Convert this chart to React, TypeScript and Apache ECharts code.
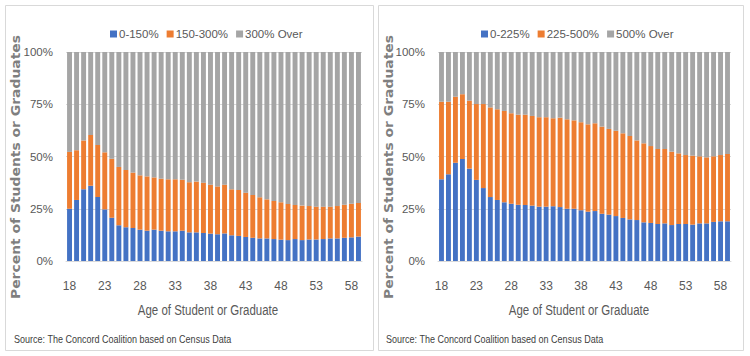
import React, { useEffect, useRef } from "react";
import * as echarts from "echarts";

const ages: string[] = [];
for (let a = 18; a <= 59; a++) ages.push(String(a));

const leftNames = ["0-150%", "150-300%", "300% Over"];
const rightNames = ["0-225%", "225-500%", "500% Over"];

const leftLow = [25.0, 29.2, 34.3, 36.0, 30.6, 24.7, 20.7, 17.1, 16.1, 15.8, 15.0, 14.5, 15.0, 14.5, 14.2, 14.2, 14.5, 13.7, 13.7, 13.4, 13.1, 12.8, 13.2, 12.3, 12.0, 11.5, 11.1, 10.8, 10.8, 10.5, 10.2, 10.0, 10.5, 10.0, 10.3, 10.3, 10.5, 10.8, 10.8, 11.1, 11.3, 11.7];
const leftMid = [27.2, 23.8, 23.3, 24.3, 24.9, 27.3, 28.2, 27.9, 27.4, 26.5, 26.0, 26.0, 25.0, 24.9, 24.9, 24.9, 24.4, 24.0, 24.3, 24.1, 23.4, 22.9, 23.3, 22.0, 22.0, 21.2, 20.5, 19.7, 18.7, 18.2, 17.9, 17.3, 16.3, 16.5, 16.0, 15.7, 15.5, 15.2, 15.5, 15.8, 16.1, 16.1];
const leftHigh = [47.8, 47.0, 42.4, 39.7, 44.5, 48.0, 51.1, 55.0, 56.5, 57.7, 59.0, 59.5, 60.0, 60.6, 60.9, 60.9, 61.1, 62.3, 62.0, 62.5, 63.5, 64.3, 63.5, 65.7, 66.0, 67.3, 68.4, 69.5, 70.5, 71.3, 71.9, 72.7, 73.2, 73.5, 73.7, 74.0, 74.0, 74.0, 73.7, 73.1, 72.6, 72.2];

const rightLow = [39.1, 41.5, 47.0, 48.8, 44.2, 38.8, 34.9, 30.6, 29.2, 28.1, 27.4, 26.9, 26.8, 26.5, 26.0, 26.0, 26.2, 25.8, 25.0, 25.0, 24.3, 23.6, 23.9, 22.6, 22.2, 21.5, 20.6, 19.9, 19.6, 18.5, 18.2, 17.7, 18.0, 17.2, 17.7, 17.7, 17.4, 18.0, 18.0, 18.7, 19.0, 19.0];
const rightMid = [37.1, 34.7, 31.6, 31.0, 32.5, 36.3, 40.2, 42.9, 43.4, 43.7, 43.3, 43.1, 43.2, 42.9, 42.8, 42.8, 42.1, 42.8, 42.8, 42.3, 42.1, 41.8, 42.0, 41.7, 41.0, 40.8, 40.5, 39.9, 38.1, 37.8, 36.8, 35.9, 35.6, 35.1, 33.8, 33.0, 33.0, 32.1, 31.6, 31.4, 31.7, 32.2];
const rightHigh = [23.8, 23.8, 21.4, 20.2, 23.3, 24.9, 24.9, 26.5, 27.4, 28.2, 29.3, 30.0, 30.0, 30.6, 31.2, 31.2, 31.7, 31.4, 32.2, 32.7, 33.6, 34.6, 34.1, 35.7, 36.8, 37.7, 38.9, 40.2, 42.3, 43.7, 45.0, 46.4, 46.4, 47.7, 48.5, 49.3, 49.6, 49.9, 50.4, 49.9, 49.3, 48.8];

const yTicks = [0, 25, 50, 75, 100];
const xAxisTitle = "Age of Student or Graduate";
const yAxisTitle = "Percent of Students or Graduates";
const sourceText = "Source: The Concord Coalition based on Census Data";

const colors = ["#4472c4", "#ed7d31", "#a5a5a5"];
const FONT = "'Liberation Sans', Arial, sans-serif";
const LABEL = "#595959";

export default function App() {
  const ref = useRef<HTMLDivElement>(null);
  useEffect(() => {
    if (!ref.current) return;
    const chart = echarts.init(ref.current, undefined, { renderer: "svg" });
    const mkX = (gi: number) => ({
      type: "category" as const,
      gridIndex: gi,
      data: ages,
      axisTick: { show: false },
      axisLine: { show: true, lineStyle: { color: "#d9d9d9" } },
      axisLabel: { interval: 4, color: LABEL, fontSize: 12, fontFamily: FONT, margin: 19 },
    });
    const mkY = (gi: number) => ({
      type: "value" as const,
      gridIndex: gi,
      min: 0,
      max: 100,
      interval: 25,
      axisLine: { show: false },
      axisTick: { show: false },
      splitLine: { lineStyle: { color: "#d9d9d9" } },
      axisLabel: {
        color: LABEL,
        fontSize: 11.5,
        fontFamily: FONT,
        margin: 13,
        formatter: (v: number) => (yTicks.includes(v) ? v + "%" : ""),
      },
    });
    const mkSeries = (names: string[], data: number[][], gi: number) =>
      names.map((n, i) => ({
        name: n,
        type: "bar" as const,
        stack: "s" + gi,
        xAxisIndex: gi,
        yAxisIndex: gi,
        data: data[i],
        itemStyle: { color: colors[i] },
        barCategoryGap: "30%",
      }));
    const mkLegend = (names: string[], cx: number) => ({
      data: names,
      left: cx,
      top: 28,
      padding: 0,
      icon: "rect",
      itemWidth: 7,
      itemHeight: 7,
      itemGap: 8,
      selectedMode: false,
      textStyle: { color: LABEL, fontSize: 11.5, fontFamily: FONT, padding: [0, 0, 0, -3] },
    });
    const txt = (x: number, y: number, text: string, font: string, extra: any = {}) => ({
      type: "text",
      x,
      y,
      silent: true,
      ...extra,
      style: { text, fill: LABEL, font, textAlign: "center", textVerticalAlign: "middle", ...(extra.style || {}) },
    });
    chart.setOption({
      animation: false,
      backgroundColor: "#ffffff",
      legend: [mkLegend(leftNames, 110), mkLegend(rightNames, 481)],
      grid: [
        { left: 66, top: 52, width: 296, height: 209 },
        { left: 438, top: 52, width: 293, height: 209 },
      ],
      xAxis: [mkX(0), mkX(1)],
      yAxis: [mkY(0), mkY(1)],
      series: [
        ...mkSeries(leftNames, [leftLow, leftMid, leftHigh], 0),
        ...mkSeries(rightNames, [rightLow, rightMid, rightHigh], 1),
      ],
      graphic: [
        { type: "rect", z: -10, silent: true, shape: { x: 5.5, y: 5.5, width: 368, height: 345 }, style: { fill: "#fff", stroke: "#d9d9d9", lineWidth: 1 } },
        { type: "rect", z: -10, silent: true, shape: { x: 378.5, y: 5.5, width: 365, height: 345 }, style: { fill: "#fff", stroke: "#d9d9d9", lineWidth: 1 } },
        txt(16, 167, yAxisTitle, "bold 13px 'DejaVu Sans', sans-serif", { rotation: Math.PI / 2, scaleX: 1.07, style: { fill: "#7f7f7f" } }),
        txt(389, 167, yAxisTitle, "bold 13px 'DejaVu Sans', sans-serif", { rotation: Math.PI / 2, scaleX: 1.07, style: { fill: "#7f7f7f" } }),
        txt(208, 310, xAxisTitle, "14px " + FONT, { scaleX: 0.82 }),
        txt(579, 310, xAxisTitle, "14px " + FONT, { scaleX: 0.82 }),
        txt(14, 339, sourceText, "11px " + FONT, { scaleX: 0.82, style: { textAlign: "left", fill: "#404040" } }),
        txt(386, 339, sourceText, "11px " + FONT, { scaleX: 0.82, style: { textAlign: "left", fill: "#404040" } }),
      ],
    });
    return () => chart.dispose();
  }, []);
  return <div ref={ref} style={{ position: "fixed", left: 0, top: 0, width: 750, height: 356 }} />;
}
